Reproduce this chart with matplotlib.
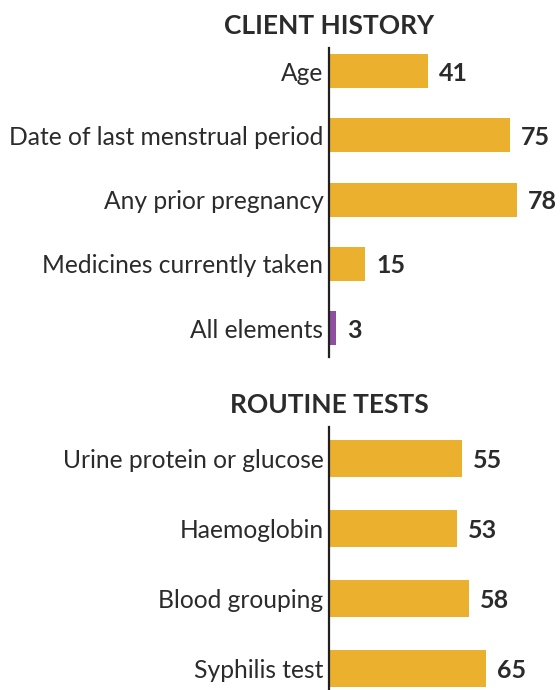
import matplotlib
matplotlib.use("Agg")
import matplotlib.pyplot as plt

plt.rcParams['font.family'] = ['Lato', 'DejaVu Sans']

# client history panel
history_labels = ["Age", "Date of last menstrual period", "Any prior pregnancy",
                  "Medicines currently taken", "All elements"]
history_values = [41, 75, 78, 15, 3]
history_colors = ["#EAB02E", "#EAB02E", "#EAB02E", "#EAB02E", "#8E4FA0"]

# routine tests panel
tests_labels = ["Urine protein or glucose", "Haemoglobin", "Blood grouping", "Syphilis test"]
tests_values = [55, 53, 58, 65]
tests_colors = ["#EAB02E"] * 4

W, H = 560, 690
TEXT = "#2b2b2b"


def panel(fig, rect, labels, values, colors, title, ylim):
    ax = fig.add_axes(rect)
    pos = list(range(len(labels)))
    ax.barh(pos, values, height=0.53, color=colors)
    ax.set_xlim(0, 95.8)
    ax.set_ylim(*ylim)
    ax.set_yticks(pos)
    ax.set_yticklabels(labels, fontsize=17.7, color=TEXT)
    ax.tick_params(axis='y', length=0, pad=4)
    ax.set_xticks([])
    for s in ["top", "right", "bottom"]:
        ax.spines[s].set_visible(False)
    ax.spines["left"].set_linewidth(1.6)
    ax.spines["left"].set_color("#231f20")
    for p, v in zip(pos, values):
        ax.text(v + 4.6, p + 0.03, str(v), va="center", ha="left", fontsize=18,
                fontweight="bold", color=TEXT)
    ax.set_title(title, fontsize=19, fontweight="bold", color=TEXT,
                 x=0, loc="center", pad=10)
    return ax


fig = plt.figure(figsize=(W / 100, H / 100), dpi=100)
left = 329 / W
width = (W - 329) / W

panel(fig, [left, 1 - 357 / H, width, 309 / H], history_labels, history_values,
      history_colors, "CLIENT HISTORY", (4.45, -0.36))
panel(fig, [left, 0, width, 263 / H], tests_labels, tests_values,
      tests_colors, "ROUTINE TESTS", (3.31, -0.45))

fig.savefig("out.png", dpi=100)
